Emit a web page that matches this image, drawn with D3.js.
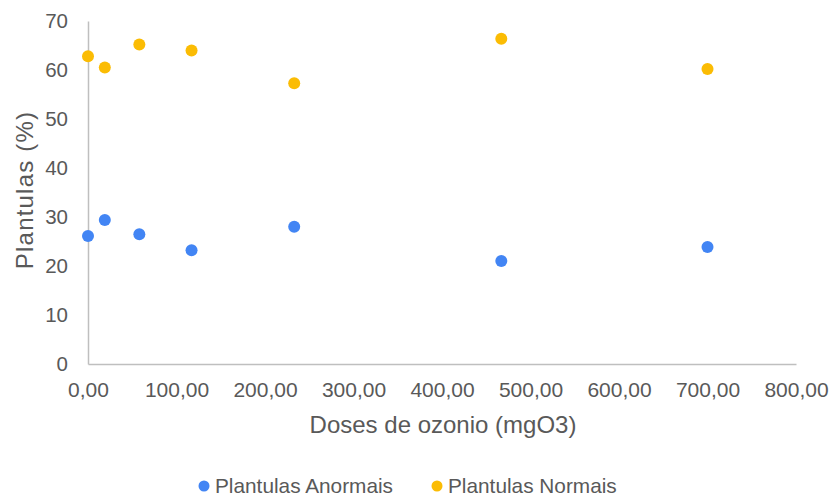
<!DOCTYPE html>
<html>
<head>
<meta charset="utf-8">
<script src="https://cdn.jsdelivr.net/npm/d3@7/dist/d3.min.js"></script>
<style>
  html, body { margin: 0; padding: 0; background: #fff; }
  svg { display: block; font-family: "Liberation Sans", Arial, sans-serif; }
</style>
</head>
<body>
<svg id="chart" width="833" height="498"></svg>
<script>
// Doses de ozonio (mgO3)
const doses = [0, 19, 58, 117, 233, 467, 700];
const anormais = [26.1, 29.4, 26.5, 23.2, 28.0, 21.0, 23.9];
const normais = [62.8, 60.5, 65.2, 64.0, 57.3, 66.4, 60.2];
const xTicks = [0, 100, 200, 300, 400, 500, 600, 700, 800];
const yTicks = [0, 10, 20, 30, 40, 50, 60, 70];

const series = [
  { name: 'Plantulas Anormais', values: anormais, color: '#4285F4' },
  { name: 'Plantulas Normais', values: normais, color: '#FBBC04' }
];

const svg = d3.select('#chart');
const margin = { left: 88, right: 37, top: 21, bottom: 134 };
const W = 833, H = 498;

const x = d3.scaleLinear().domain([0, 800]).range([margin.left, W - margin.right]);
const y = d3.scaleLinear().domain([0, 70]).range([H - margin.bottom, margin.top]);

const textColor = '#595959';
const axisColor = '#bfbfbf';
const font = '"Liberation Sans", Arial, sans-serif';

// y axis
const yAxis = svg.append('g')
  .attr('transform', `translate(${margin.left},0)`)
  .call(d3.axisLeft(y).tickValues(yTicks).tickSize(0).tickPadding(20));
yAxis.select('.domain').attr('stroke', axisColor).attr('stroke-width', 1.5);
yAxis.selectAll('text').attr('fill', textColor).attr('font-size', 20.5).style('font-family', font);

// x axis
const fmt = v => d3.format('.2f')(v).replace('.', ',');
const xAxis = svg.append('g')
  .attr('transform', `translate(0,${y(0)})`)
  .call(d3.axisBottom(x).tickValues(xTicks).tickFormat(fmt).tickSize(0).tickPadding(18));
xAxis.select('.domain').attr('stroke', axisColor).attr('stroke-width', 1.5);
xAxis.selectAll('text').attr('fill', textColor).attr('font-size', 21).style('font-family', font);

// axis titles
svg.append('text')
  .attr('x', 443).attr('y', 433)
  .attr('text-anchor', 'middle')
  .attr('fill', textColor).attr('font-size', 24)
  .text('Doses de ozonio (mgO3)');

svg.append('text')
  .attr('transform', 'translate(33,190) rotate(-90)')
  .attr('text-anchor', 'middle')
  .attr('fill', textColor).attr('font-size', 24)
  .attr('letter-spacing', 1.2)
  .text('Plantulas (%)');

// points
series.forEach(s => {
  svg.append('g').selectAll('circle')
    .data(s.values)
    .enter().append('circle')
    .attr('cx', (d, i) => x(doses[i]))
    .attr('cy', d => y(d))
    .attr('r', 6)
    .attr('fill', s.color);
});

// legend
const legendX = [204, 437];
series.forEach((s, i) => {
  const g = svg.append('g').attr('transform', `translate(${legendX[i]},486)`);
  g.append('circle').attr('r', 5.5).attr('fill', s.color);
  g.append('text')
    .attr('x', 11).attr('y', 7)
    .attr('fill', textColor).attr('font-size', 20.8)
    .text(s.name);
});
</script>
</body>
</html>
